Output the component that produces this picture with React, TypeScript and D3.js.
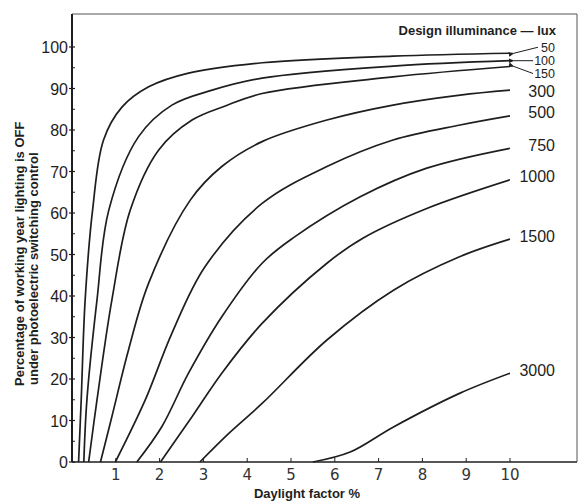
import React, { useEffect, useRef } from 'react';
import * as d3 from 'd3';

const W = 579;
const H = 502;
const INK = '#1e1e1e';
const SANS = '"Liberation Sans", Arial, sans-serif';

// daylight factor % vs percentage of working year lighting is OFF
const CURVE_50: [number, number][] = [
  [0.15, 0], [0.21, 14.9], [0.3, 39], [0.47, 60.7], [0.72, 77.6], [1.14, 85.5],
  [1.75, 90.4], [2.66, 93.7], [4.34, 96.2], [7.33, 97.8], [10, 98.5],
];
const CURVE_100: [number, number][] = [
  [0.27, 0], [0.34, 14.9], [0.57, 39], [0.84, 60.7], [1.52, 78.4], [2.28, 86],
  [3.2, 89.6], [4.34, 92.5], [7.33, 95.4], [10, 96.7],
];
const CURVE_150: [number, number][] = [
  [0.38, 0], [0.57, 14.9], [0.91, 39], [1.33, 60.7], [1.98, 75.2], [2.74, 82.4],
  [3.5, 85.8], [4.34, 88.8], [7.33, 92.8], [10, 95.3],
];
const CURVE_300: [number, number][] = [
  [0.65, 0], [0.91, 10.9], [1.29, 27], [1.75, 43.1], [2.7, 63.1], [3.42, 71.2],
  [4.34, 77.2], [5.82, 82.4], [7.33, 86], [8.86, 88.4], [10, 89.6],
];
const CURVE_500: [number, number][] = [
  [0.99, 0], [1.67, 14.9], [2.28, 31], [3.04, 47.1], [4.34, 62.3], [5.82, 71.2],
  [7.33, 77.6], [8.86, 81.2], [10, 83.4],
];
const CURVE_750: [number, number][] = [
  [1.48, 0], [2.05, 8.5], [2.66, 21.4], [3.42, 35], [4.34, 47.9], [5.05, 54],
  [6.58, 63.9], [8.1, 70.8], [10, 75.6],
];
const CURVE_1000: [number, number][] = [
  [2.02, 0], [2.74, 10.9], [3.42, 21.4], [4.34, 33.4], [5.82, 47.9], [6.65, 54],
  [8.1, 61.1], [10, 68],
];
const CURVE_1500: [number, number][] = [
  [2.92, 0], [3.58, 6.9], [4.34, 14.1], [5.82, 29.4], [7.34, 41.4], [8.86, 49.5], [10, 53.7],
];
const CURVE_3000: [number, number][] = [
  [5.5, 0], [6.35, 2.4], [7.33, 8.4], [8.86, 16.6], [10, 21.4],
];

const LUX = ['50', '100', '150', '300', '500', '750', '1000', '1500', '3000'];
const CURVES = [CURVE_50, CURVE_100, CURVE_150, CURVE_300, CURVE_500, CURVE_750, CURVE_1000, CURVE_1500, CURVE_3000];

const X_TICKS = [1, 2, 3, 4, 5, 6, 7, 8, 9, 10];
const Y_TICKS = [0, 10, 20, 30, 40, 50, 60, 70, 80, 90, 100];

const App: React.FC = () => {
  const svgRef = useRef<SVGSVGElement>(null);

  useEffect(() => {
    const svg = d3.select(svgRef.current);
    svg.selectAll('*').remove();

    const x = d3.scaleLinear().domain([0, 10]).range([72, 510]);
    const y = d3.scaleLinear().domain([0, 100]).range([462, 47]);
    const x0 = x(0), x1 = 577, yTop = 14, yBot = y(0);

    svg.append('rect').attr('width', W).attr('height', H).attr('fill', '#fff');

    const defs = svg.append('defs');
    defs.append('marker').attr('id', 'arr')
      .attr('viewBox', '0 0 10 10').attr('refX', 1).attr('refY', 5)
      .attr('markerWidth', 6).attr('markerHeight', 6).attr('orient', 'auto-start-reverse')
      .append('path').attr('d', 'M10,1 L0,5 L10,9 Z').attr('fill', INK);

    // frame
    svg.append('path')
      .attr('d', `M${x0},${yTop} L${x1},${yTop} L${x1},${yBot}`)
      .attr('fill', 'none').attr('stroke', '#555').attr('stroke-width', 1);
    svg.append('line').attr('x1', x0).attr('x2', x1).attr('y1', yBot).attr('y2', yBot)
      .attr('stroke', INK).attr('stroke-width', 1.6);
    svg.append('line').attr('x1', x0).attr('x2', x0).attr('y1', yTop).attr('y2', yBot)
      .attr('stroke', INK).attr('stroke-width', 2);

    // y ticks
    const minorY = d3.range(5, 101, 10);
    minorY.forEach(v => {
      svg.append('line').attr('x1', x0).attr('x2', x0 + 3).attr('y1', y(v)).attr('y2', y(v))
        .attr('stroke', INK).attr('stroke-width', 1);
    });
    Y_TICKS.forEach(v => {
      svg.append('line').attr('x1', x0 - 3).attr('x2', x0 + 3).attr('y1', y(v)).attr('y2', y(v))
        .attr('stroke', INK).attr('stroke-width', 1.2);
      svg.append('text').attr('x', x0 - 4).attr('y', y(v) + 6)
        .attr('text-anchor', 'end').attr('font-family', SANS).attr('font-size', 16)
        .attr('fill', INK).text(v);
    });

    // x ticks
    X_TICKS.forEach(v => {
      svg.append('line').attr('x1', x(v)).attr('x2', x(v)).attr('y1', yBot).attr('y2', yBot - 4)
        .attr('stroke', INK).attr('stroke-width', 1);
      svg.append('text').attr('x', x(v)).attr('y', yBot + 18)
        .attr('text-anchor', 'middle').attr('font-family', '"DejaVu Sans", sans-serif')
        .attr('font-size', 15).attr('fill', '#333').text(v);
    });

    // curves
    const line = d3.line<[number, number]>()
      .x(d => x(d[0])).y(d => y(d[1]))
      .curve(d3.curveCatmullRom.alpha(0.5));
    CURVES.forEach(c => {
      svg.append('path').datum(c)
        .attr('d', line).attr('fill', 'none')
        .attr('stroke', INK).attr('stroke-width', 1.7);
    });

    // curve labels
    const crowded = [-6, 0, 7]; // shifts for the stacked 50, 100, 150 labels
    CURVES.forEach((c, i) => {
      const end = c[c.length - 1];
      const ex = x(end[0]), ey = y(end[1]);
      if (i < 3) {
        const ly = ey + crowded[i];
        svg.append('text').attr('x', 555).attr('y', ly + 4.5)
          .attr('text-anchor', 'end').attr('font-family', SANS).attr('font-size', 12.5)
          .attr('fill', INK).text(LUX[i]);
        svg.append('line').attr('x1', 538 - (i === 0 ? 0 : 5)).attr('y1', ly)
          .attr('x2', ex + 4).attr('y2', ey)
          .attr('stroke', INK).attr('stroke-width', 1)
          .attr('marker-end', 'url(#arr)');
      } else {
        svg.append('text').attr('x', 555).attr('y', ey + (i === 3 ? 6.5 : 2.5))
          .attr('text-anchor', 'end').attr('font-family', SANS).attr('font-size', 16)
          .attr('fill', INK).text(LUX[i]);
      }
    });

    svg.append('text').attr('x', 556).attr('y', 35)
      .attr('text-anchor', 'end').attr('font-family', SANS).attr('font-size', 13)
      .attr('font-weight', 'bold').attr('fill', INK).text('Design illuminance — lux');

    svg.append('text').attr('x', 307).attr('y', 498)
      .attr('text-anchor', 'middle').attr('font-family', SANS).attr('font-size', 13)
      .attr('font-weight', 'bold').attr('fill', INK).text('Daylight factor %');

    svg.append('text').attr('transform', 'translate(24,386) rotate(-90)')
      .attr('font-family', SANS).attr('font-size', 13).attr('font-weight', 'bold')
      .attr('fill', INK).text('Percentage of working year lighting is OFF');
    svg.append('text').attr('transform', 'translate(38,385) rotate(-90)')
      .attr('font-family', SANS).attr('font-size', 13).attr('font-weight', 'bold')
      .attr('fill', INK).text('under photoelectric switching control');
  }, []);

  return (
    <svg ref={svgRef} width={W} height={H}
      style={{ position: 'absolute', left: 0, top: 0, display: 'block' }} />
  );
};

export default App;
